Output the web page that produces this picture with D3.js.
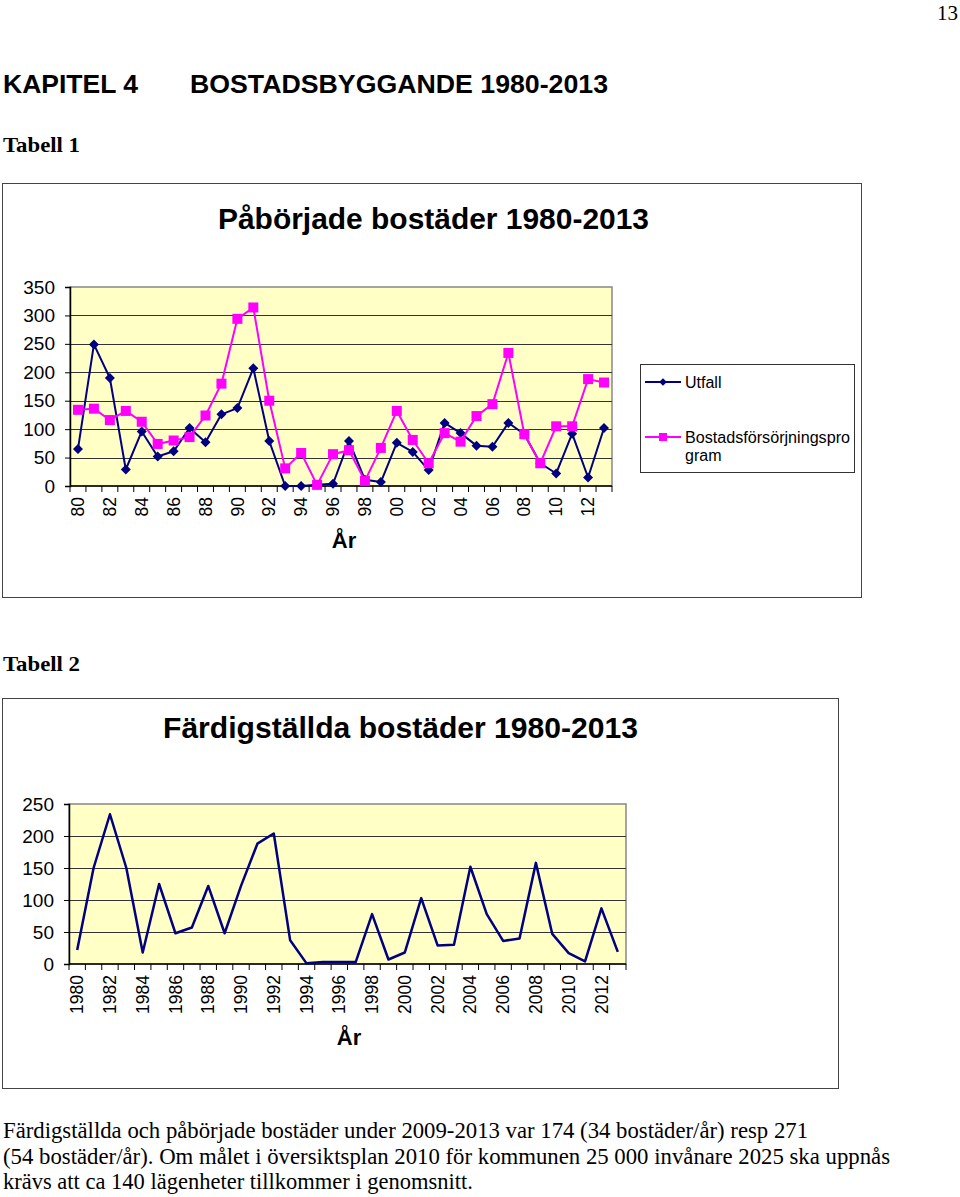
<!DOCTYPE html>
<html><head><meta charset="utf-8">
<script src="https://cdn.jsdelivr.net/npm/d3@7"></script>
<style>
body{margin:0;background:#fff;}
svg{display:block;}
</style></head><body>
<svg id="page" width="960" height="1197"></svg>
<script>
// ---- data ----
const years = [1980,1981,1982,1983,1984,1985,1986,1987,1988,1989,1990,1991,1992,1993,1994,1995,1996,1997,1998,1999,2000,2001,2002,2003,2004,2005,2006,2007,2008,2009,2010,2011,2012,2013];
const utfall = [65,249,190,29,96,52,61,102,77,126,137,207,79,0,0,2,4,79,11,7,76,60,28,111,93,71,69,111,91,40,22,92,15,102];
const program = [134,136,116,132,113,74,80,86,124,180,294,314,150,31,58,2,56,63,9,67,132,81,40,93,78,123,144,234,91,40,105,105,188,182];
const fardig = [22,150,234,150,18,125,48,57,122,48,122,188,204,37,1,3,3,3,78,7,18,103,29,30,152,78,36,40,158,47,17,4,87,19];
const yTicks1 = [0,50,100,150,200,250,300,350];
const yTicks2 = [0,50,100,150,200,250];
const seriesNames = ["Utfall","Bostadsförsörjningsprogram"];

const SANS = "'Liberation Sans', Arial, sans-serif";
const SERIF = "'Liberation Serif', 'Times New Roman', serif";
const NAVY = "#000080", PINK = "#FF00FF";

const svg = d3.select("#page");

function text(x, y, str, size, opts = {}) {
  const t = svg.append("text").attr("x", x).attr("y", y).text(str)
    .attr("font-family", opts.family || SERIF).attr("font-size", size)
    .attr("font-weight", opts.weight || "normal")
    .attr("text-anchor", opts.anchor || "start").attr("fill", "#000");
  if (opts.len) t.attr("textLength", opts.len).attr("lengthAdjust", "spacingAndGlyphs");
  return t;
}

// page texts
text(958, 20, "13", 21, {anchor: "end"});
text(3, 93, "KAPITEL 4", 26.5, {family: SANS, weight: "bold", len: 135});
text(190, 93, "BOSTADSBYGGANDE 1980-2013", 26.5, {family: SANS, weight: "bold", len: 418});
text(3, 152, "Tabell 1", 22, {weight: "bold", len: 77});
text(3, 671, "Tabell 2", 22, {weight: "bold", len: 77});
text(3, 1138, "Färdigställda och påbörjade bostäder under 2009-2013 var 174 (34 bostäder/år) resp 271", 22.5, {len: 805});
text(3, 1164, "(54 bostäder/år). Om målet i översiktsplan 2010 för kommunen 25 000 invånare 2025 ska uppnås", 22.5, {len: 887});
text(3, 1189, "krävs att ca 140 lägenheter tillkommer i genomsnitt.", 22.5);

function chart(cfg) {
  const g = svg.append("g");
  // outer box
  g.append("rect").attr("x", cfg.box[0] + 0.5).attr("y", cfg.box[1] + 0.5)
    .attr("width", cfg.box[2] - cfg.box[0]).attr("height", cfg.box[3] - cfg.box[1])
    .attr("fill", "#fff").attr("stroke", "#444").attr("stroke-width", 1);
  // title
  g.append("text").attr("x", cfg.titleX).attr("y", cfg.titleY).text(cfg.title)
    .attr("font-family", SANS).attr("font-weight", "bold").attr("font-size", 30)
    .attr("text-anchor", "middle").attr("textLength", cfg.titleLen).attr("lengthAdjust", "spacingAndGlyphs");

  const x = d3.scaleBand().domain(years).range([cfg.left, cfg.right]).padding(0);
  const y = d3.scaleLinear().domain([0, cfg.ymax]).range([cfg.bottom, cfg.top]);

  // plot background
  g.append("rect").attr("x", cfg.left).attr("y", cfg.top)
    .attr("width", cfg.right - cfg.left).attr("height", cfg.bottom - cfg.top)
    .attr("fill", "#FFFFC6").attr("stroke", "#888").attr("stroke-width", 1.5);

  // gridlines
  g.append("g").selectAll("line").data(cfg.yTicks.filter(t => t > 0 && t < cfg.ymax)).join("line")
    .attr("x1", cfg.left).attr("x2", cfg.right)
    .attr("y1", d => Math.round(y(d)) + 0.5).attr("y2", d => Math.round(y(d)) + 0.5)
    .attr("stroke", "#333").attr("stroke-width", 1.2);

  // y axis
  const ya = g.append("g").attr("transform", `translate(${cfg.left},0)`)
    .call(d3.axisLeft(y).tickValues(cfg.yTicks).tickSize(5).tickPadding(10).tickFormat(d3.format("d")));
  ya.select(".domain").attr("stroke", "#000").attr("stroke-width", 1.5);
  ya.selectAll(".tick line").attr("stroke", "#000");
  ya.selectAll(".tick text").attr("font-family", SANS).attr("font-size", 19).attr("fill", "#000");

  // x axis (ticks at category boundaries)
  const xa = g.append("g").attr("transform", `translate(0,${cfg.bottom})`);
  xa.append("line").attr("x1", cfg.left).attr("x2", cfg.right).attr("y1", 0).attr("y2", 0)
    .attr("stroke", "#000").attr("stroke-width", 1.5);
  const bounds = years.map(yr => x(yr)).concat([x(years[years.length - 1]) + x.bandwidth()]);
  xa.selectAll("line.tk").data(bounds).join("line").attr("class", "tk")
    .attr("x1", d => d).attr("x2", d => d).attr("y1", 0).attr("y2", 6)
    .attr("stroke", "#000").attr("stroke-width", 1);
  xa.selectAll("text").data(years.filter(yr => yr % 2 === 0)).join("text")
    .attr("transform", d => `translate(${x(d) + x.bandwidth() / 2},${cfg.labelTop - cfg.bottom}) rotate(-90)`)
    .attr("dy", "0.35em").attr("text-anchor", "end")
    .attr("font-family", SANS).attr("font-size", 17.5)
    .text(cfg.labelFmt);

  // axis title
  g.append("text").attr("x", cfg.arX).attr("y", cfg.arY).text("År")
    .attr("font-family", SANS).attr("font-weight", "bold").attr("font-size", 22)
    .attr("text-anchor", "middle");

  // series
  cfg.series.forEach(s => {
    const line = d3.line().x((d, i) => x(years[i]) + x.bandwidth() / 2).y(d => y(d));
    g.append("path").datum(s.values).attr("d", line)
      .attr("fill", "none").attr("stroke", s.color).attr("stroke-width", s.width || 2)
      .attr("stroke-linejoin", "round");
    if (s.marker) {
      g.append("g").selectAll("path").data(s.values).join("path")
        .attr("d", d3.symbol(d3.symbolSquare, s.marker === "diamond" ? 50 : 100)())
        .attr("transform", (d, i) => `translate(${x(years[i]) + x.bandwidth() / 2},${y(d)})` + (s.marker === "diamond" ? " rotate(45)" : ""))
        .attr("fill", s.color);
    }
  });
  return {x, y};
}

chart({
  box: [2, 183, 861, 597], title: "Påbörjade bostäder 1980-2013", titleX: 433.5, titleY: 229, titleLen: 431,
  left: 70, right: 612, top: 287, bottom: 486, ymax: 350, yTicks: yTicks1,
  labelTop: 497, labelFmt: d => String(d).slice(2), arX: 344, arY: 548,
  series: [
    {values: utfall, color: NAVY, marker: "diamond", width: 2},
    {values: program, color: PINK, marker: "square", width: 2}
  ]
});

// legend chart 1
const lg = svg.append("g");
lg.append("rect").attr("x", 640.5).attr("y", 364.5).attr("width", 214).attr("height", 108)
  .attr("fill", "#fff").attr("stroke", "#333").attr("stroke-width", 1);
lg.append("line").attr("x1", 645).attr("x2", 681).attr("y1", 382).attr("y2", 382).attr("stroke", NAVY).attr("stroke-width", 2);
lg.append("path").attr("d", d3.symbol(d3.symbolSquare, 30)()).attr("transform", "translate(663,382) rotate(45)").attr("fill", NAVY);
lg.append("text").attr("x", 685).attr("y", 388).text(seriesNames[0]).attr("font-family", SANS).attr("font-size", 16);
lg.append("line").attr("x1", 645).attr("x2", 681).attr("y1", 437).attr("y2", 437).attr("stroke", PINK).attr("stroke-width", 2);
lg.append("path").attr("d", d3.symbol(d3.symbolSquare, 64)()).attr("transform", "translate(663,437)").attr("fill", PINK);
lg.append("text").attr("x", 685).attr("y", 443).text("Bostadsförsörjningspro").attr("font-family", SANS).attr("font-size", 16).attr("textLength", 165).attr("lengthAdjust", "spacingAndGlyphs");
lg.append("text").attr("x", 685).attr("y", 461).text("gram").attr("font-family", SANS).attr("font-size", 16);

chart({
  box: [2, 698, 838, 1088], title: "Färdigställda bostäder 1980-2013", titleX: 400.5, titleY: 738, titleLen: 475,
  left: 69, right: 626, top: 804, bottom: 964, ymax: 250, yTicks: yTicks2,
  labelTop: 975, labelFmt: d => String(d), arX: 349, arY: 1045,
  series: [
    {values: fardig, color: NAVY, width: 2.5}
  ]
});
</script>
</body></html>
